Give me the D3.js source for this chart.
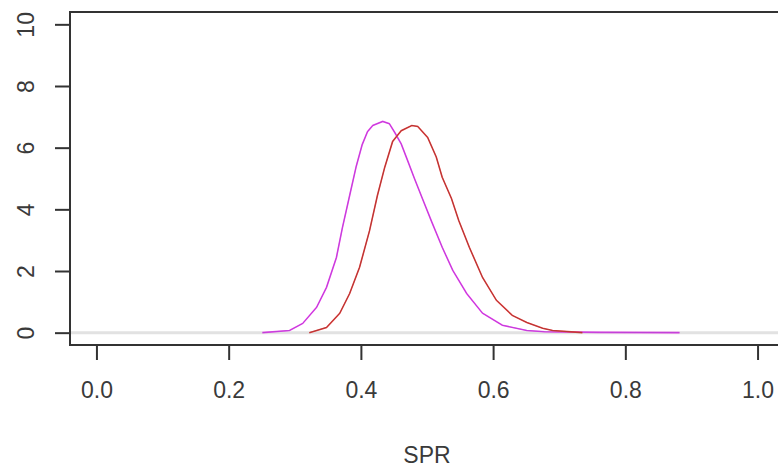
<!DOCTYPE html>
<html>
<head>
<meta charset="utf-8">
<script src="https://cdn.jsdelivr.net/npm/d3@7"></script>
<style>
  body { margin: 0; background: #fff; }
  svg text { font-family: "Liberation Sans", Arial, sans-serif; fill: #3a3a3a; }
</style>
</head>
<body>
<svg id="chart"></svg>
<script>
// density estimates
const sprA = [0.251, 0.292, 0.312, 0.333, 0.348, 0.363, 0.372, 0.383, 0.393, 0.402, 0.410, 0.418, 0.433, 0.443, 0.451, 0.461, 0.470, 0.481, 0.493, 0.507, 0.523, 0.539, 0.560, 0.584, 0.614, 0.651, 0.678, 0.761, 0.882];
const densA = [0.0, 0.07, 0.30, 0.82, 1.47, 2.44, 3.40, 4.45, 5.40, 6.10, 6.52, 6.72, 6.85, 6.78, 6.50, 6.12, 5.62, 5.00, 4.35, 3.60, 2.77, 2.02, 1.27, 0.63, 0.24, 0.07, 0.03, 0.01, 0.0];

const sprB = [0.322, 0.348, 0.368, 0.383, 0.398, 0.413, 0.425, 0.436, 0.448, 0.461, 0.477, 0.486, 0.501, 0.514, 0.523, 0.537, 0.548, 0.564, 0.584, 0.605, 0.629, 0.651, 0.675, 0.690, 0.735];
const densB = [0.0, 0.17, 0.63, 1.27, 2.12, 3.30, 4.45, 5.36, 6.20, 6.55, 6.72, 6.69, 6.33, 5.70, 5.04, 4.35, 3.64, 2.77, 1.79, 1.05, 0.56, 0.33, 0.14, 0.07, 0.0];

const xTicks = [0.0, 0.2, 0.4, 0.6, 0.8, 1.0];
const yTicks = [0, 2, 4, 6, 8, 10];
const xLabel = "SPR";

const width = 778, height = 469;
const box = {left: 70, top: 12, right: 784, bottom: 345};

const svg = d3.select("#chart").attr("width", width).attr("height", height);

const xscale = d3.scaleLinear().domain([-0.04, 1.04]).range([box.left, box.right]);
const yscale = d3.scaleLinear().domain([-0.4, 10.4]).range([box.bottom, box.top]);

// baseline at zero
svg.append("line")
    .attr("x1", box.left).attr("x2", box.right)
    .attr("y1", yscale(0)).attr("y2", yscale(0))
    .attr("stroke", "#e2e2e2").attr("stroke-width", 3);

const line = d3.line()
    .x(d => xscale(d[0]))
    .y(d => yscale(d[1]));

const seriesA = sprA.map((v, i) => [v, densA[i]]);
const seriesB = sprB.map((v, i) => [v, densB[i]]);

svg.append("path").attr("d", line(seriesA))
    .attr("fill", "none").attr("stroke", "#ee44ee").attr("stroke-width", 1.6);
svg.append("path").attr("d", line(seriesA))
    .attr("fill", "none").attr("stroke", "#8a3fc0").attr("stroke-width", 0.8).attr("opacity", 0.6);

svg.append("path").attr("d", line(seriesB))
    .attr("fill", "none").attr("stroke", "#e8413f").attr("stroke-width", 1.6);
svg.append("path").attr("d", line(seriesB))
    .attr("fill", "none").attr("stroke", "#7a2a2a").attr("stroke-width", 0.8).attr("opacity", 0.6);

// box (right side falls outside the window)
svg.append("rect")
    .attr("x", box.left).attr("y", box.top)
    .attr("width", box.right - box.left).attr("height", box.bottom - box.top)
    .attr("fill", "none").attr("stroke", "#333").attr("stroke-width", 2);

// x axis
const xaxis = d3.axisBottom(xscale)
    .tickValues(xTicks)
    .tickSize(15)
    .tickPadding(22)
    .tickFormat(d3.format(".1f"));

svg.append("g")
    .attr("transform", `translate(0, ${box.bottom})`)
    .call(xaxis)
    .call(g => g.select(".domain").remove())
    .call(g => g.selectAll(".tick line").attr("stroke", "#333").attr("stroke-width", 2))
    .call(g => g.selectAll(".tick text").attr("font-size", 23).attr("fill", "#3a3a3a"));

// y axis
const yaxis = d3.axisLeft(yscale)
    .tickValues(yTicks)
    .tickSize(15);

const yg = svg.append("g")
    .attr("transform", `translate(${box.left}, 0)`)
    .call(yaxis)
    .call(g => g.select(".domain").remove())
    .call(g => g.selectAll(".tick line").attr("stroke", "#333").attr("stroke-width", 2));

yg.selectAll(".tick text")
    .attr("x", 0).attr("y", 0).attr("dy", null)
    .attr("transform", "translate(-36, 0) rotate(-90)")
    .attr("text-anchor", "middle")
    .attr("font-size", 23)
    .attr("fill", "#3a3a3a");

svg.append("text")
    .attr("x", xscale(0.5))
    .attr("y", 463)
    .attr("text-anchor", "middle")
    .attr("font-size", 23)
    .text(xLabel);
</script>
</body>
</html>
